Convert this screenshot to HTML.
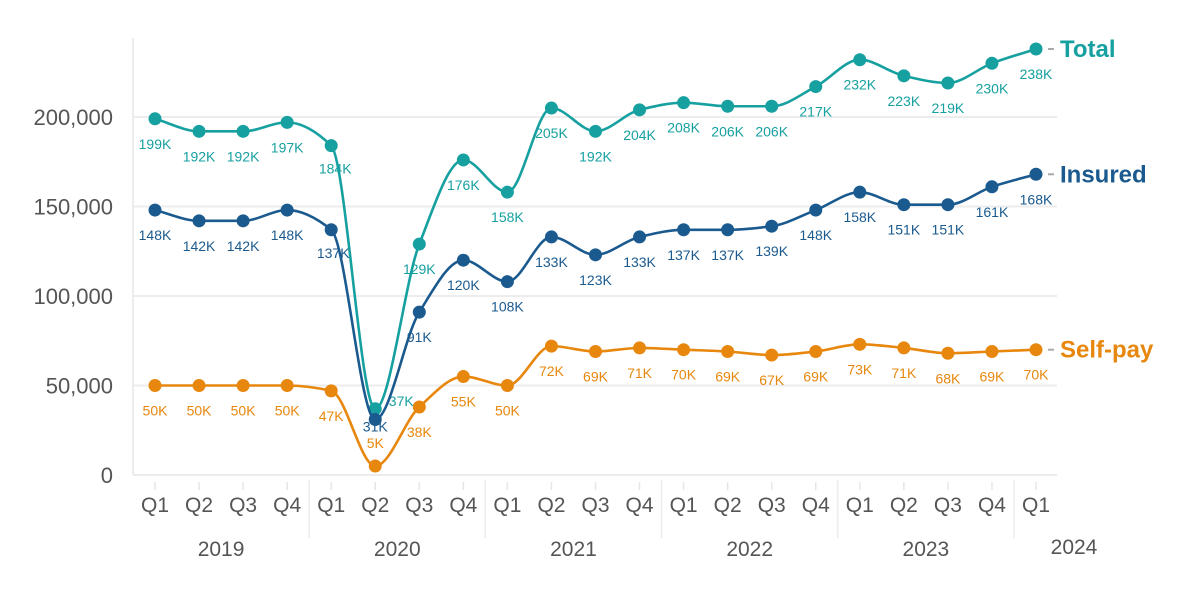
<!DOCTYPE html>
<html><head><meta charset="utf-8"><style>
body{margin:0;background:#fff;font-family:"Liberation Sans",sans-serif}
svg text{font-family:"Liberation Sans",sans-serif}
</style></head><body>
<svg id="chart" width="1200" height="588" viewBox="0 0 1200 588" xmlns="http://www.w3.org/2000/svg"></svg>
<script>
const quarters=["Q1","Q2","Q3","Q4","Q1","Q2","Q3","Q4","Q1","Q2","Q3","Q4","Q1","Q2","Q3","Q4","Q1","Q2","Q3","Q4","Q1"];
const years=["2019","2020","2021","2022","2023","2024"];
const yTicks=[0,50000,100000,150000,200000];
const yTickLabels=["0","50,000","100,000","150,000","200,000"];
const totalVals=[199,192,192,197,184,37,129,176,158,205,192,204,208,206,206,217,232,223,219,230,238];
const insuredVals=[148,142,142,148,137,31,91,120,108,133,123,133,137,137,139,148,158,151,151,161,168];
const selfPayVals=[50,50,50,50,47,5,38,55,50,72,69,71,70,69,67,69,73,71,68,69,70];
const seriesNames=["Total","Insured","Self-pay"];

const svg=document.getElementById('chart');
const NS="http://www.w3.org/2000/svg";
const x0=155,dx=44.05,yBase=475,yScale=358/200000;
const X=i=>x0+i*dx;
const Y=v=>yBase-v*yScale;
function mk(tag,attrs,parent){const e=document.createElementNS(NS,tag);for(const k in attrs)e.setAttribute(k,attrs[k]);(parent||svg).appendChild(e);return e;}

yTicks.forEach((t,i)=>{
  const g=mk('line',{x1:133,x2:1057,y1:Y(t),y2:Y(t),stroke:'#ececec','stroke-width':2});
  
  
  const tx=mk('text',{x:113,y:Y(t)+8,'text-anchor':'end','font-size':22,fill:'#555'});
  tx.textContent=yTickLabels[i];
  
  
});
const ax=mk('line',{x1:133,x2:133,y1:38,y2:475,stroke:'#ececec','stroke-width':2});



quarters.forEach((q,i)=>{
  const tk=mk('line',{x1:X(i),x2:X(i),y1:482,y2:490,stroke:'#e6e6e6','stroke-width':1.5});
  
  
  const t=mk('text',{x:X(i),y:512,'text-anchor':'middle','font-size':21,fill:'#555'});
  t.textContent=q;
  
  
});
years.forEach((yr,j)=>{
  const start=j*4;
  if(j<5){
    const cx=(X(start)+X(Math.min(start+3,20)))/2;
    const t=mk('text',{x:cx,y:556,'text-anchor':'middle','font-size':21,fill:'#555'});
    t.textContent=yr;
    
    
    if(j>0){const s=mk('line',{x1:X(start)-dx/2,x2:X(start)-dx/2,y1:480,y2:538,stroke:'#ececec','stroke-width':1.5});
      
      }
  }else{
    const s=mk('line',{x1:X(20)-dx/2,x2:X(20)-dx/2,y1:480,y2:538,stroke:'#ececec','stroke-width':1.5});
    
    
    const t=mk('text',{x:X(20)+38,y:554,'text-anchor':'middle','font-size':21,fill:'#555'});
    t.textContent=yr;
    
    
  }
});

// monotone cubic (Fritsch-Carlson)
function smooth(pts){
  const n=pts.length,m=[],s=[];
  for(let i=0;i<n-1;i++)s.push((pts[i+1][1]-pts[i][1])/(pts[i+1][0]-pts[i][0]));
  m[0]=s[0];m[n-1]=s[n-2];
  for(let i=1;i<n-1;i++){
    if(s[i-1]*s[i]<=0)m[i]=0;
    else{const a=s[i-1],b=s[i];m[i]=3*(a+b)/((2*b+a)/a+(b+2*a)/b)/ (3) * 3 /3; m[i]=2/(1/a+1/b);}
  }
  let d=`M${pts[0][0]},${pts[0][1]}`;
  for(let i=0;i<n-1;i++){
    const h=(pts[i+1][0]-pts[i][0])/3;
    d+=` C${pts[i][0]+h},${pts[i][1]+m[i]*h} ${pts[i+1][0]-h},${pts[i+1][1]-m[i+1]*h} ${pts[i+1][0]},${pts[i+1][1]}`;
  }
  return d;
}
function drawSeries(vals,color,name,key,special){
  const g=mk('g',{});
  
  
  const pts=vals.map((v,i)=>[X(i),Y(v*1000)]);
  const p=mk('path',{d:smooth(pts),fill:'none',stroke:color,'stroke-width':2.6},g);
  
  
  pts.forEach((pt,i)=>{
    const c=mk('circle',{cx:pt[0],cy:pt[1],r:6.5,fill:color},g);
    
    
    let lx=pt[0],ly=pt[1]+30;
    if(special[i]){lx+=special[i][0];ly=pt[1]+special[i][1];}
    const t=mk('text',{x:lx,y:ly,'text-anchor':'middle','font-size':14,fill:color},g);
    t.textContent=vals[i]+'K';
    
    
  });
  const last=pts[pts.length-1];
  const dash=mk('line',{x1:last[0]+12,x2:last[0]+18,y1:last[1],y2:last[1],stroke:'#aaa','stroke-width':2},g);
  
  
  const lt=mk('text',{x:last[0]+24,y:last[1]+8,'font-size':24,'font-weight':'bold',fill:color},g);
  lt.textContent=name;
  
  
}
drawSeries(selfPayVals,'#e8870e',seriesNames[2],'self-pay',{5:[0,-18]});
drawSeries(totalVals,'#17a0a0',seriesNames[0],'total',{5:[26,-3],4:[4,28]});
drawSeries(insuredVals,'#1b5a8e',seriesNames[1],'insured',{5:[0,12],4:[2,28]});
</script>
</body></html>
